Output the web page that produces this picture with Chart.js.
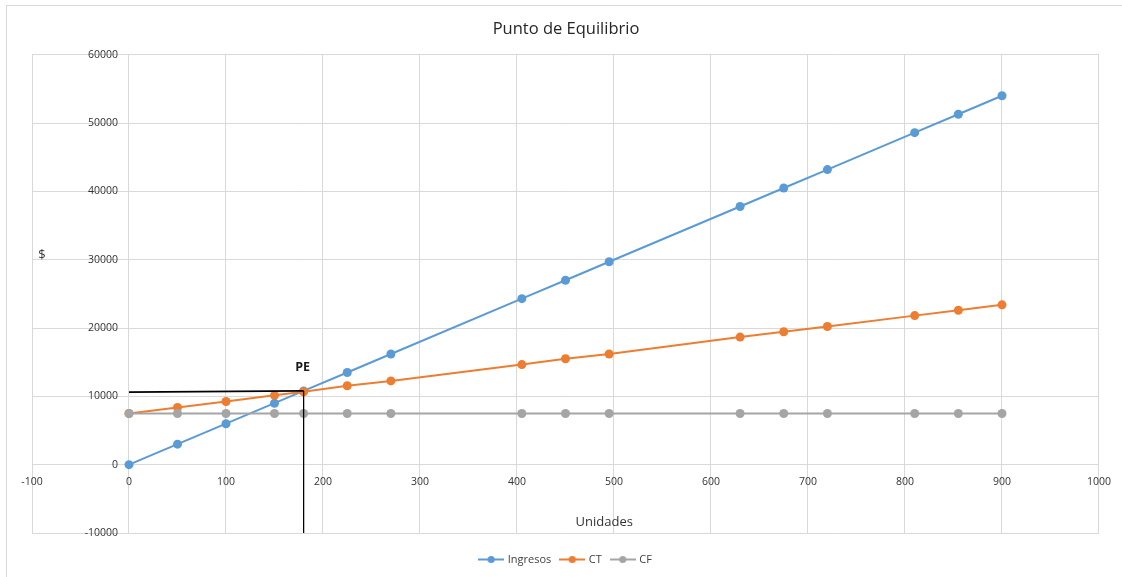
<!DOCTYPE html>
<html>
<head>
<meta charset="utf-8">
<title>Punto de Equilibrio</title>
<script src="https://cdn.jsdelivr.net/npm/chart.js@4.4.1/dist/chart.umd.min.js"></script>
<style>
  html, body { margin: 0; padding: 0; background: #ffffff; }
  #wrap { width: 1122px; height: 577px; }
</style>
</head>
<body>
<div id="wrap"><canvas id="grafico" width="1122" height="577"></canvas></div>
<script>
// Unidades vendidas (eje X) y valores en $ de cada serie
const unidades   = [0, 50, 100, 150, 180, 225, 270, 405, 450, 495, 630, 675, 720, 810, 855, 900];
const ingresos   = [0, 3000, 6000, 9000, 10800, 13500, 16200, 24300, 27000, 29700, 37800, 40500, 43200, 48600, 51300, 54000];
const costoTotal = [7500, 8380, 9250, 10150, 10680, 11550, 12260, 14650, 15500, 16200, 18680, 19460, 20220, 21820, 22600, 23400];
const costoFijo  = [7500, 7500, 7500, 7500, 7500, 7500, 7500, 7500, 7500, 7500, 7500, 7500, 7500, 7500, 7500, 7500];

// Marcas de los ejes
const xTickValues = [-100, 0, 100, 200, 300, 400, 500, 600, 700, 800, 900, 1000];
const yTickValues = [-10000, 0, 10000, 20000, 30000, 40000, 50000, 60000];

// Punto de equilibrio y sus líneas guía
const peX = [0, 180];
const peHorizontal = [10620, 10800];
const peVerticalX = [180, 180];
const peVertical = [10800, -10000];
const peEtiqueta = { x: 179, y: 14300, texto: 'PE' };

const nombres = ['Ingresos', 'CT', 'CF'];
const colores = ['#5B9BD5', '#ED7D31', '#A5A5A5'];
const series = [ingresos, costoTotal, costoFijo];

const FUENTE = "'Open Sans', 'Liberation Sans', sans-serif";

function puntos(xs, ys) {
  return xs.map((x, i) => ({ x: x, y: ys[i] }));
}

// Símbolo de la leyenda: línea con un punto al centro
function simbolo(color) {
  const c = document.createElement('canvas');
  c.width = 26; c.height = 9;
  const g = c.getContext('2d');
  g.strokeStyle = color; g.lineWidth = 2;
  g.beginPath(); g.moveTo(0, 4.5); g.lineTo(26, 4.5); g.stroke();
  g.fillStyle = color;
  g.beginPath(); g.arc(13, 4.5, 3.6, 0, Math.PI * 2); g.fill();
  return c;
}
const simbolos = colores.map(simbolo);

const datasets = series.map((valores, i) => ({
  label: nombres[i],
  data: puntos(unidades, valores),
  borderColor: colores[i],
  backgroundColor: colores[i],
  borderWidth: 2,
  pointRadius: 4.5,
  pointHoverRadius: 4.5,
  pointBorderWidth: 0,
  order: 3 - i
}));

datasets.push({
  label: 'pe-h',
  data: puntos(peX, peHorizontal),
  borderColor: '#000000',
  borderWidth: 1.8,
  pointRadius: 0,
  order: 0
});
datasets.push({
  label: 'pe-v',
  data: puntos(peVerticalX, peVertical),
  borderColor: '#000000',
  borderWidth: 1,
  pointRadius: 0,
  order: 0
});

// Marco del gráfico y rótulos adicionales
const rotulos = {
  id: 'rotulos',
  beforeDraw(chart) {
    const ctx = chart.ctx;
    ctx.save();
    ctx.fillStyle = '#ffffff';
    ctx.fillRect(0, 0, chart.width, chart.height);
    ctx.strokeStyle = '#D9D9D9';
    ctx.lineWidth = 1;
    ctx.strokeRect(6.5, 5.5, chart.width + 20, chart.height + 20);
    ctx.restore();
  },
  afterDraw(chart) {
    const ctx = chart.ctx;
    const xs = chart.scales.x, ys = chart.scales.y, area = chart.chartArea;
    ctx.save();
    ctx.textAlign = 'center';
    ctx.textBaseline = 'middle';
    ctx.fillStyle = '#333333';
    ctx.font = '13px ' + FUENTE;
    ctx.fillText('Unidades', xs.getPixelForValue(490), area.bottom - 11);
    ctx.fillText('$', area.left + 10, ys.getPixelForValue(30700));
    ctx.fillStyle = '#1a1a1a';
    ctx.font = 'bold 12.5px ' + FUENTE;
    ctx.fillText(peEtiqueta.texto, xs.getPixelForValue(peEtiqueta.x), ys.getPixelForValue(peEtiqueta.y));
    ctx.restore();
  }
};

new Chart(document.getElementById('grafico'), {
  type: 'line',
  data: { datasets: datasets },
  options: {
    responsive: false,
    animation: false,
    devicePixelRatio: 1,
    layout: { padding: { left: 32, right: 22, top: 10, bottom: 2 } },
    plugins: {
      title: {
        display: true,
        text: 'Punto de Equilibrio',
        color: '#262626',
        font: { family: FUENTE, size: 16.5, weight: 'normal' },
        padding: { top: 9, bottom: 16 }
      },
      legend: {
        display: true,
        position: 'bottom',
        // título vacío: sólo separa la leyenda del área del gráfico
        title: { display: true, text: '', font: { size: 10, lineHeight: 1 }, padding: 0.5 },
        labels: {
          usePointStyle: true,
          pointStyleWidth: 22,
          padding: 10,
          color: '#404040',
          font: { family: FUENTE, size: 11 },
          generateLabels(chart) {
            return nombres.map((n, i) => ({
              text: n,
              datasetIndex: i,
              pointStyle: simbolos[i],
              fillStyle: colores[i],
              strokeStyle: colores[i],
              lineWidth: 0,
              hidden: false,
              fontColor: '#404040'
            }));
          }
        }
      },
      tooltip: { enabled: false }
    },
    scales: {
      x: {
        type: 'linear',
        position: { y: 0 },
        min: -100,
        max: 1000,
        afterBuildTicks(scale) { scale.ticks = xTickValues.map(v => ({ value: v })); },
        ticks: {
          color: '#333333',
          font: { family: FUENTE, size: 10.5 },
          padding: 11,
          maxRotation: 0,
          callback: v => String(v)
        },
        grid: { color: '#D9D9D9', lineWidth: 1, drawTicks: false },
        border: { display: true, color: '#D9D9D9' }
      },
      y: {
        type: 'linear',
        // etiquetas a la izquierda de la línea x = 0, con un pequeño margen
        position: { x: -11.3 },
        min: -10000,
        max: 60000,
        afterBuildTicks(scale) { scale.ticks = yTickValues.map(v => ({ value: v })); },
        ticks: {
          color: '#333333',
          font: { family: FUENTE, size: 10.5 },
          callback: v => String(v)
        },
        grid: { color: '#D9D9D9', lineWidth: 1, drawTicks: false },
        border: { display: false }
      }
    }
  },
  plugins: [rotulos]
});
</script>
</body>
</html>
